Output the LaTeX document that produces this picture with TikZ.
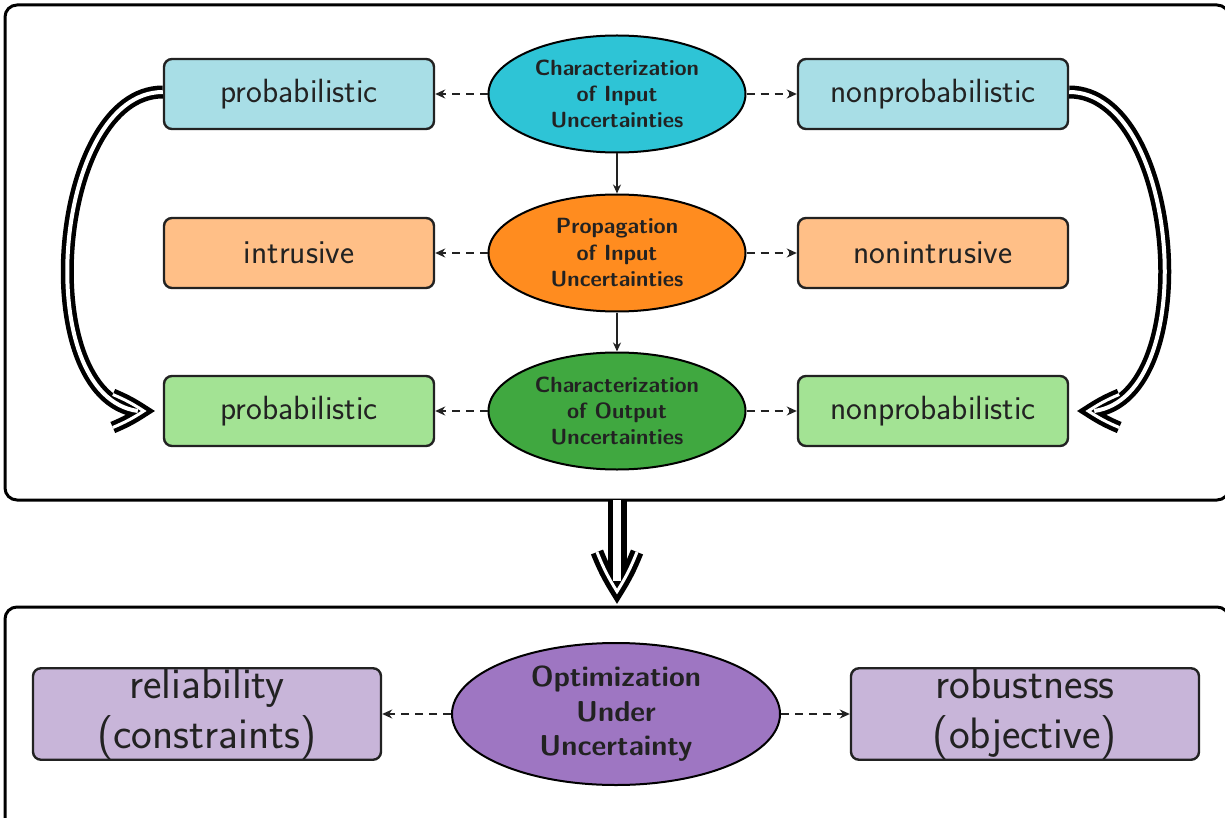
\documentclass[tikz,border=0pt]{standalone}
\usetikzlibrary{shapes.geometric,arrows.meta}
\definecolor{inkc}{HTML}{222222}
\definecolor{cyanE}{HTML}{2EC4D6}
\definecolor{cyanB}{HTML}{A8DEE6}
\definecolor{orangeE}{HTML}{FF8C1F}
\definecolor{orangeB}{HTML}{FFBF87}
\definecolor{greenE}{HTML}{40A840}
\definecolor{greenB}{HTML}{A3E394}
\definecolor{purpleE}{HTML}{9E76C2}
\definecolor{purpleB}{HTML}{C8B5D9}
\begin{document}
\begin{tikzpicture}[x=0.5pt,y=-0.5pt,
  frame/.style={draw=black,line width=1.5pt,rounded corners=6pt},
  stage/.style={ellipse,draw=black,line width=1pt,text=inkc,align=center,inner sep=0pt,
    minimum width=128.5pt,minimum height=58.5pt,
    font=\sffamily\bfseries\fontsize{11}{13.2}\selectfont},
  optstage/.style={stage,minimum width=164pt,minimum height=71pt,inner ysep=-8pt,
    font=\sffamily\bfseries\fontsize{14.4}{17.3}\selectfont},
  item/.style={draw=inkc,line width=1.2pt,rounded corners=4pt,text=inkc,align=center,
    minimum width=135pt,minimum height=35pt,inner sep=0pt,
    font=\sffamily\fontsize{16.8}{20}\selectfont},
  bigitem/.style={item,minimum width=174pt,minimum height=45.5pt,
    font=\sffamily\fontsize{22}{25}\selectfont},
  dashlink/.style={-{Stealth[length=5pt,width=4.5pt]},dashed,dash pattern=on 4pt off 3pt,line width=1.2pt,draw=inkc},
  solidlink/.style={-{Stealth[length=4.5pt,width=4pt]},line width=0.9pt,draw=inkc},
  % hollow double arrows: outer strokes and white cores drawn separately
  shaftout/.style={draw=black,line width=6.5pt},
  shaftin/.style={draw=white,line width=2pt},
  headout/.style={draw=black,line width=6pt,line join=miter,miter limit=20},
  headin/.style={draw=white,line width=1.5pt,line join=miter,miter limit=20},
  bshaftout/.style={draw=black,line width=9.5pt},
  bshaftin/.style={draw=white,line width=4pt},
  bheadout/.style={draw=black,line width=6.5pt,line join=miter,miter limit=20},
  bheadin/.style={draw=white,line width=1.5pt,line join=miter,miter limit=20}
]
\useasboundingbox (0,0) rectangle (1225,818);

% frames
\draw[frame] (5,5) rectangle (1229,500);
\draw[frame] (5,607) rectangle (1229,830);

% upper block: three stages with their branches
\node[stage,fill=cyanE] (char) at (617,94) {Characterization\\of Input\\Uncertainties};
\node[stage,fill=orangeE] (prop) at (617,253) {Propagation\\of Input\\Uncertainties};
\node[stage,fill=greenE] (outc) at (617,411) {Characterization\\of Output\\Uncertainties};

\node[item,fill=cyanB] (pin) at (299,94) {probabilistic};
\node[item,fill=cyanB] (npin) at (933,94) {nonprobabilistic};
\node[item,fill=orangeB] (intr) at (299,253) {intrusive};
\node[item,fill=orangeB] (nintr) at (933,253) {nonintrusive};
\node[item,fill=greenB] (pout) at (299,411) {probabilistic};
\node[item,fill=greenB] (npout) at (933,411) {nonprobabilistic};

\draw[dashlink] (char.west) -- (pin.east);
\draw[dashlink] (char.east) -- (npin.west);
\draw[dashlink] (prop.west) -- (intr.east);
\draw[dashlink] (prop.east) -- (nintr.west);
\draw[dashlink] (outc.west) -- (pout.east);
\draw[dashlink] (outc.east) -- (npout.west);

\draw[solidlink] (char.south) -- (prop.north);
\draw[solidlink] (prop.south) -- (outc.north);

% curved hollow arrows on both sides
\coordinate (lstart) at ([yshift=1pt]pin.west);
\coordinate (lend) at ([shift={(-25,0)}]pout.west);
\coordinate (ltip) at ([shift={(-19,0)}]pout.west);
\coordinate (lbarbA) at ([shift={(-50,-16.5)}]pout.west);
\coordinate (lbarbB) at ([shift={(-50,16.5)}]pout.west);
\coordinate (rstart) at ([yshift=1pt]npin.east);
\coordinate (rend) at ([shift={(25,0)}]npout.east);
\coordinate (rtip) at ([shift={(19,0)}]npout.east);
\coordinate (rbarbA) at ([shift={(50,-16.5)}]npout.east);
\coordinate (rbarbB) at ([shift={(50,16.5)}]npout.east);

\draw[shaftout] (lstart) to[out=180,in=172,looseness=0.88] (lend);
\draw[shaftout] (rstart) to[out=0,in=8,looseness=0.88] (rend);
\draw[headout] (lbarbA) to[bend left=5] (ltip) to[bend left=5] (lbarbB);
\draw[headout] (rbarbA) to[bend right=5] (rtip) to[bend right=5] (rbarbB);
\draw[shaftin] (lstart) to[out=180,in=172,looseness=0.88] (lend);
\draw[shaftin] (rstart) to[out=0,in=8,looseness=0.88] (rend);
\draw[headin] (lbarbA) to[bend left=5] (ltip) to[bend left=5] (lbarbB);
\draw[headin] (rbarbA) to[bend right=5] (rtip) to[bend right=5] (rbarbB);

% lower block
\node[optstage,fill=purpleE] (opt) at (616,714) {Optimization\\Under\\Uncertainty};
\node[bigitem,fill=purpleB] (rel) at (207,714) {reliability\\(constraints)};
\node[bigitem,fill=purpleB] (rob) at (1025,714) {robustness\\(objective)};
\draw[dashlink] (opt.west) -- (rel.east);
\draw[dashlink] (opt.east) -- (rob.west);

% hollow arrow from the upper block down to the lower one
\coordinate (upperbase) at (617,500);
\coordinate (vend) at (617,581);
\coordinate (vtip) at (617,591.5);
\coordinate (vbarbA) at (597,552);
\coordinate (vbarbB) at (637,552);
\draw[bshaftout] (upperbase) -- (vend);
\draw[bheadout] (vbarbA) to[bend right=5] (vtip) to[bend right=5] (vbarbB);
\draw[bshaftin] (upperbase) -- (vend);
\draw[bheadin] (vbarbA) to[bend right=5] (vtip) to[bend right=5] (vbarbB);
\end{tikzpicture}
\end{document}
